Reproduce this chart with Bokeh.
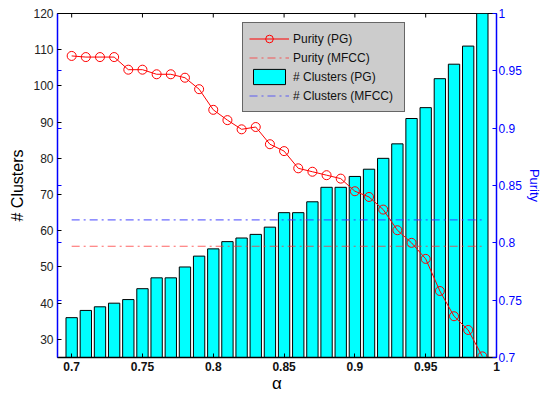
import math
from bokeh.plotting import figure
from bokeh.models import (Range1d, LinearAxis, FixedTicker, Legend, LegendItem,
                          ColumnDataSource)
from bokeh.embed import file_html
from bokeh.resources import INLINE

# ---------------- data ----------------
alpha = [0.70, 0.71, 0.72, 0.73, 0.74, 0.75, 0.76, 0.77, 0.78, 0.79,
         0.80, 0.81, 0.82, 0.83, 0.84, 0.85, 0.86, 0.87, 0.88, 0.89,
         0.90, 0.91, 0.92, 0.93, 0.94, 0.95, 0.96, 0.97, 0.98, 0.99]
clusters_pg = [36, 38, 39, 40, 41, 44, 47, 47, 50, 53,
               55, 57, 58, 59, 61, 65, 65, 68, 72, 72,
               75, 77, 80, 84, 91, 94, 102, 106, 111, 122]
purity_pg = [0.963, 0.962, 0.962, 0.962, 0.951, 0.951, 0.947, 0.947, 0.944, 0.934,
             0.916, 0.907, 0.899, 0.901, 0.886, 0.880, 0.865, 0.862, 0.859, 0.856,
             0.845, 0.840, 0.829, 0.811, 0.800, 0.786, 0.758, 0.736, 0.724, 0.701]
purity_mfcc = 0.797
clusters_mfcc = 63

x_ticks = [0.7, 0.75, 0.8, 0.85, 0.9, 0.95, 1.0]
x_tick_labels = ["0.7", "0.75", "0.8", "0.85", "0.9", "0.95", "1"]
left_ticks = [30, 40, 50, 60, 70, 80, 90, 100, 110, 120]
right_ticks = [0.7, 0.75, 0.8, 0.85, 0.9, 0.95, 1.0]
right_tick_labels = ["0.7", "0.75", "0.8", "0.85", "0.9", "0.95", "1"]

LEFT_RANGE = (25, 120)
RIGHT_RANGE = (0.7, 1.0)
FONT = "Liberation Sans"

# ---------------- figure ----------------
p = figure(width=544, height=396, output_backend="svg", toolbar_location=None,
           x_range=Range1d(0.69, 1.0), y_range=Range1d(*LEFT_RANGE),
           min_border_left=57, min_border_right=48, min_border_top=13,
           min_border_bottom=39)
p.extra_y_ranges = {"purity": Range1d(*RIGHT_RANGE)}
p.xgrid.visible = False
p.ygrid.visible = False
p.outline_line_color = "black"
p.outline_line_width = 1
p.background_fill_color = "white"
p.border_fill_color = "white"

src = ColumnDataSource(dict(alpha=alpha, clusters=clusters_pg, purity=purity_pg))

bars = p.vbar(x="alpha", top="clusters", bottom=0, width=0.008, source=src,
              fill_color="#00ffff", line_color="black", line_width=1)
x_span = [alpha[0], alpha[-1]]
mfcc_c = p.line(x_span, [clusters_mfcc, clusters_mfcc], line_color="#3a3aff",
                line_alpha=0.75, line_width=1.2, line_dash="8 4 2 4")
mfcc_p = p.line(x_span, [purity_mfcc, purity_mfcc], y_range_name="purity",
                line_color="#ff3030", line_alpha=0.75, line_width=1.2,
                line_dash="8 4 2 4")
pg_line = p.line("alpha", "purity", source=src, y_range_name="purity",
                 line_color="red", line_width=1)
pg_pts = p.scatter("alpha", "purity", source=src, y_range_name="purity",
                   marker="circle", size=9, fill_color=None, line_color="red",
                   line_width=1)

# top-edge ticks (half of each dash is clipped by the frame, leaving an inward tick)
p.scatter(x=x_ticks, y=[LEFT_RANGE[1]] * len(x_ticks), marker="dash",
          angle=math.pi / 2, size=8, line_color="black", line_width=1)

# ---------------- axes ----------------
# bottom
xa = p.xaxis[0]
xa.ticker = FixedTicker(ticks=x_ticks)
xa.major_label_overrides = {t: l for t, l in zip(x_ticks, x_tick_labels)}
xa.major_tick_in = 4
xa.major_tick_out = 0
xa.minor_tick_line_color = None
xa.axis_line_color = "black"
xa.axis_line_width = 1.5
xa.major_tick_line_color = "black"
xa.major_label_text_font = FONT
xa.major_label_text_font_size = "12px"
xa.major_label_text_font_style = "bold"
xa.major_label_text_color = "#111111"
xa.major_label_standoff = 4
xa.axis_label = "α"
xa.axis_label_text_font = FONT
xa.axis_label_text_font_size = "17px"
xa.axis_label_text_font_style = "normal"
xa.axis_label_text_color = "black"
xa.axis_label_standoff = 0

# left
purity_tick_pos = [LEFT_RANGE[0] + (t - RIGHT_RANGE[0]) / (RIGHT_RANGE[1] - RIGHT_RANGE[0])
                   * (LEFT_RANGE[1] - LEFT_RANGE[0]) for t in right_ticks[1:-1]]
ya = p.yaxis[0]
ya.ticker = FixedTicker(ticks=left_ticks, minor_ticks=purity_tick_pos)
ya.major_tick_in = 4
ya.major_tick_out = 0
ya.minor_tick_in = 4
ya.minor_tick_out = 0
ya.minor_tick_line_color = "blue"
ya.major_tick_line_color = "black"
ya.axis_line_color = "blue"
ya.axis_line_width = 1.5
ya.major_label_text_font = FONT
ya.major_label_text_font_size = "12px"
ya.major_label_text_color = "#222222"
ya.major_label_standoff = 4
ya.axis_label = "# Clusters"
ya.axis_label_text_font = FONT
ya.axis_label_text_font_size = "16px"
ya.axis_label_text_font_style = "normal"
ya.axis_label_text_color = "black"
ya.axis_label_standoff = 4

# right
ra = LinearAxis(y_range_name="purity", ticker=FixedTicker(ticks=right_ticks),
                major_tick_in=4, major_tick_out=0, minor_tick_line_color=None,
                axis_line_color="blue", axis_line_width=1.5,
                major_tick_line_color="blue",
                major_label_text_font=FONT, major_label_text_font_size="12px",
                major_label_text_color="blue", major_label_standoff=2,
                axis_label="Purity", axis_label_text_font=FONT,
                axis_label_text_font_size="13px", axis_label_text_font_style="normal",
                axis_label_text_color="blue", axis_label_standoff=2)
ra.major_label_overrides = {t: l for t, l in zip(right_ticks, right_tick_labels)}
p.add_layout(ra, "right")

# ---------------- legend ----------------
legend = Legend(items=[
    LegendItem(label="Purity (PG)", renderers=[pg_line, pg_pts]),
    LegendItem(label="Purity (MFCC)", renderers=[mfcc_p]),
    LegendItem(label="# Clusters (PG)", renderers=[bars]),
    LegendItem(label="# Clusters (MFCC)", renderers=[mfcc_c]),
], location=(185, 245))
legend.background_fill_color = "#cccccc"
legend.background_fill_alpha = 1.0
legend.border_line_color = "black"
legend.border_line_width = 1
legend.label_text_font = FONT
legend.label_text_font_size = "12px"
legend.label_text_color = "#111111"
legend.glyph_width = 40
legend.glyph_height = 19
legend.label_height = 19
legend.label_width = 105
legend.label_standoff = 4
legend.padding = 6
legend.spacing = 0
legend.margin = 0
p.add_layout(legend, "center")

open("out.html", "w").write(file_html(p, INLINE))
